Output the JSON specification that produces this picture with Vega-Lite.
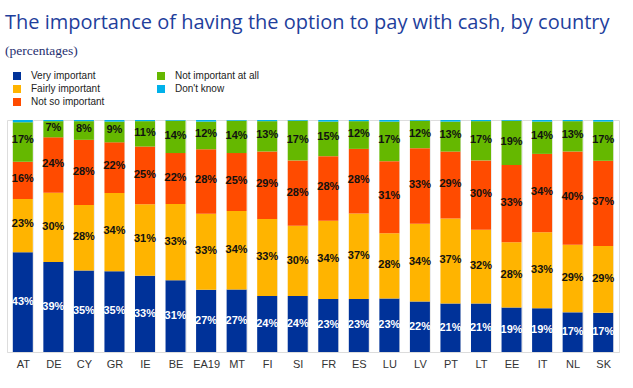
{
  "$schema": "https://vega.github.io/schema/vega-lite/v6.json",
  "width": 612,
  "height": 232,
  "autosize": {"type": "none"},
  "padding": {"left": 7, "top": 120, "right": 14, "bottom": 36},
  "background": "white",
  "title": {
    "text": "The importance of having the option to pay with cash, by country",
    "subtitle": "(percentages)",
    "anchor": "start",
    "frame": "group",
    "offset": 14,
    "dx": -2,
    "font": "Open Sans",
    "fontSize": 20,
    "fontWeight": "normal",
    "color": "#1f3f9c",
    "subtitleFont": "Liberation Serif",
    "subtitleFontSize": 13.5,
    "subtitleFontWeight": "normal",
    "subtitleColor": "#1f2f6f",
    "subtitlePadding": 11
  },
  "datasets": {
    "ranks": [
      {"k": "vi", "cat": "Very important", "r": 1},
      {"k": "fi", "cat": "Fairly important", "r": 2},
      {"k": "ns", "cat": "Not so important", "r": 3},
      {"k": "na", "cat": "Not important at all", "r": 4},
      {"k": "dk", "cat": "Don't know", "r": 5}
    ]
  },
  "data": {
    "values": [
      {"c": "AT", "vi": 43, "fi": 23, "ns": 16, "na": 17, "dk": 1},
      {"c": "DE", "vi": 39, "fi": 30, "ns": 24, "na": 7, "dk": 0.5},
      {"c": "CY", "vi": 35, "fi": 28, "ns": 28, "na": 8, "dk": 0.5},
      {"c": "GR", "vi": 35, "fi": 34, "ns": 22, "na": 9, "dk": 0.7},
      {"c": "IE", "vi": 33, "fi": 31, "ns": 25, "na": 11, "dk": 0.5},
      {"c": "BE", "vi": 31, "fi": 33, "ns": 22, "na": 14, "dk": 0.3},
      {"c": "EA19", "vi": 27, "fi": 33, "ns": 28, "na": 12, "dk": 0.7},
      {"c": "MT", "vi": 27, "fi": 34, "ns": 25, "na": 14, "dk": 0.3},
      {"c": "FI", "vi": 24, "fi": 33, "ns": 29, "na": 13, "dk": 0.5},
      {"c": "SI", "vi": 24, "fi": 30, "ns": 28, "na": 17, "dk": 0.3},
      {"c": "FR", "vi": 23, "fi": 34, "ns": 28, "na": 15, "dk": 0.7},
      {"c": "ES", "vi": 23, "fi": 37, "ns": 28, "na": 12, "dk": 0.5},
      {"c": "LU", "vi": 23, "fi": 28, "ns": 31, "na": 17, "dk": 0.7},
      {"c": "LV", "vi": 22, "fi": 34, "ns": 33, "na": 12, "dk": 0.3},
      {"c": "PT", "vi": 21, "fi": 37, "ns": 29, "na": 13, "dk": 0.7},
      {"c": "LT", "vi": 21, "fi": 32, "ns": 30, "na": 17, "dk": 0.5},
      {"c": "EE", "vi": 19, "fi": 28, "ns": 33, "na": 19, "dk": 0.3},
      {"c": "IT", "vi": 19, "fi": 33, "ns": 34, "na": 14, "dk": 0.7},
      {"c": "NL", "vi": 17, "fi": 29, "ns": 40, "na": 13, "dk": 0.5},
      {"c": "SK", "vi": 17, "fi": 29, "ns": 37, "na": 17, "dk": 0.7}
    ]
  },
  "transform": [
    {"fold": ["vi", "fi", "ns", "na", "dk"], "as": ["k", "val"]},
    {"lookup": "k", "from": {"data": {"name": "ranks"}, "key": "k", "fields": ["cat", "r"]}}
  ],
  "encoding": {
    "x": {
      "field": "c",
      "type": "nominal",
      "sort": null,
      "title": null,
      "scale": {"paddingInner": 0.345, "paddingOuter": 0.19},
      "axis": {
        "labelAngle": 0,
        "labelFont": "Liberation Sans",
        "labelFontSize": 11,
        "labelColor": "#333333",
        "labelPadding": 6,
        "ticks": false,
        "domainColor": "#dcdcdc",
        "grid": true,
        "gridColor": "#ebebeb",
        "tickBand": "extent"
      }
    },
    "y": {
      "field": "val",
      "type": "quantitative",
      "stack": "normalize",
      "axis": null,
      "scale": {"domain": [0, 1], "nice": false}
    },
    "order": {"field": "r", "type": "quantitative", "sort": "ascending"}
  },
  "layer": [
    {
      "mark": {"type": "bar"},
      "encoding": {
        "color": {
          "field": "cat",
          "type": "nominal",
          "scale": {
            "domain": ["Very important", "Fairly important", "Not so important", "Not important at all", "Don't know"],
            "range": ["#003299", "#ffb400", "#ff4b00", "#65b800", "#00b1ea"]
          },
          "legend": {
            "title": null,
            "orient": "none",
            "legendX": 5,
            "legendY": -49,
            "columns": 2,
            "columnPadding": 51,
            "rowPadding": 3,
            "symbolType": "square",
            "symbolSize": 64,
            "symbolStrokeWidth": 0,
            "labelFont": "Liberation Sans",
            "labelFontSize": 10,
            "labelColor": "#222222",
            "labelOffset": 9
          }
        }
      }
    },
    {
      "transform": [{"filter": "datum.k !== 'dk'"}],
      "mark": {
        "type": "text",
        "font": "Liberation Sans",
        "fontSize": 11,
        "fontWeight": "bold",
        "text": {"expr": "datum.val + '%'"}
      },
      "encoding": {
        "y": {"field": "val", "type": "quantitative", "stack": "normalize", "bandPosition": 0.5},
        "color": {
          "condition": {"test": "datum.k === 'vi'", "value": "white"},
          "value": "#111111"
        }
      }
    }
  ]
}
